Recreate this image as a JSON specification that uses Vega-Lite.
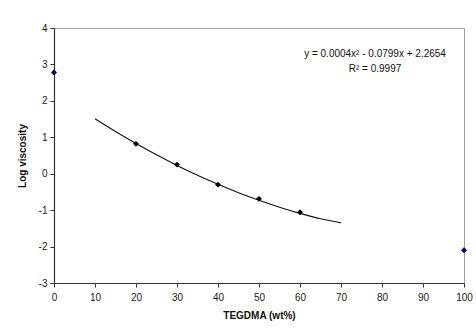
{
  "$schema": "https://vega.github.io/schema/vega-lite/v6.json",
  "width": 410,
  "height": 255,
  "autosize": {"type": "none"},
  "padding": {"left": 54, "top": 28, "right": 12, "bottom": 47},
  "background": "white",
  "config": {
    "view": {"stroke": "#a0a0a0", "strokeWidth": 1},
    "font": "Liberation Sans",
    "axis": {
      "grid": false,
      "domainColor": "#333333",
      "domainWidth": 1.2,
      "tickColor": "#333333",
      "tickSize": 4,
      "labelColor": "#222222",
      "labelFontSize": 10,
      "labelFont": "Liberation Sans",
      "labelOverlap": false,
      "labelFlush": false,
      "labelBound": false,
      "titleFont": "Liberation Sans",
      "titleFontSize": 10,
      "titleFontWeight": "bold",
      "titleColor": "#111111"
    }
  },
  "datasets": {
    "points": [
      {"x": 0, "y": 2.78, "group": "end"},
      {"x": 20, "y": 0.82, "group": "mid"},
      {"x": 30, "y": 0.25, "group": "mid"},
      {"x": 40, "y": -0.3, "group": "mid"},
      {"x": 50, "y": -0.69, "group": "mid"},
      {"x": 60, "y": -1.06, "group": "mid"},
      {"x": 100, "y": -2.1, "group": "end"}
    ],
    "trend": [
      {"x": 10, "y": 1.5064},
      {"x": 15, "y": 1.1569},
      {"x": 20, "y": 0.8274},
      {"x": 25, "y": 0.5179},
      {"x": 30, "y": 0.2284},
      {"x": 35, "y": -0.0411},
      {"x": 40, "y": -0.2906},
      {"x": 45, "y": -0.5201},
      {"x": 50, "y": -0.7296},
      {"x": 55, "y": -0.9191},
      {"x": 60, "y": -1.0886},
      {"x": 65, "y": -1.2381},
      {"x": 70, "y": -1.3476}
    ],
    "labels": [
      {"x": 78.3, "y": 3.3, "text": "y = 0.0004x² - 0.0799x + 2.2654"},
      {"x": 78.3, "y": 2.88, "text": "R² = 0.9997"}
    ]
  },
  "encoding": {
    "x": {
      "field": "x", "type": "quantitative",
      "scale": {"domain": [0, 100], "nice": false},
      "axis": {"values": [0, 10, 20, 30, 40, 50, 60, 70, 80, 90, 100], "format": "d", "title": "TEGDMA (wt%)", "titlePadding": 8, "labelPadding": 5}
    },
    "y": {
      "field": "y", "type": "quantitative",
      "scale": {"domain": [-3, 4], "nice": false},
      "axis": {"values": [-3, -2, -1, 0, 1, 2, 3, 4], "tickCount": 8, "labelExpr": "replace(datum.label, '−', '-')", "title": "Log viscosity", "titlePadding": 11, "labelPadding": 3}
    }
  },
  "layer": [
    {
      "data": {"name": "trend"},
      "mark": {"type": "line", "color": "#111111", "strokeWidth": 1.1, "interpolate": "monotone"}
    },
    {
      "data": {"name": "points"},
      "mark": {"type": "point", "shape": "diamond", "filled": true, "size": 35, "opacity": 1, "clip": false},
      "encoding": {
        "color": {
          "field": "group", "type": "nominal",
          "scale": {"domain": ["end", "mid"], "range": ["#000066", "#000000"]},
          "legend": null
        }
      }
    },
    {
      "data": {"name": "labels"},
      "mark": {"type": "text", "align": "center", "baseline": "middle", "fontSize": 10, "color": "#111111", "font": "Liberation Sans"},
      "encoding": {
        "text": {"field": "text"}
      }
    }
  ]
}
